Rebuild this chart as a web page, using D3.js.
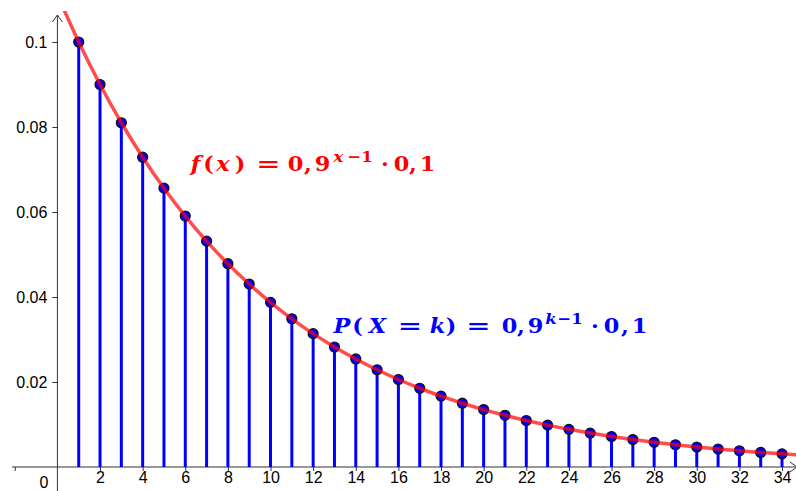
<!DOCTYPE html>
<html>
<head>
<meta charset="utf-8">
<script src="https://cdn.jsdelivr.net/npm/d3@7"></script>
<style>
  html, body { margin: 0; padding: 0; background: #fff; }
  svg { display: block; }
</style>
</head>
<body>
<svg id="chart" width="796" height="491"></svg>
<script>
// Geometric distribution P(X = k) = 0,9^(k-1) * 0,1
const kValues = [1,2,3,4,5,6,7,8,9,10,11,12,13,14,15,16,17,18,19,20,21,22,23,24,25,26,27,28,29,30,31,32,33,34];
const probs = [0.1, 0.09, 0.081, 0.0729, 0.06561, 0.05905, 0.05314, 0.04783, 0.04305, 0.03874,
               0.03487, 0.03138, 0.02824, 0.02542, 0.02288, 0.02059, 0.01853, 0.01668, 0.01501, 0.01351,
               0.01216, 0.01094, 0.00985, 0.00886, 0.00798, 0.00718, 0.00646, 0.00581, 0.00523, 0.00471,
               0.00424, 0.00382, 0.00343, 0.00309];
// continuous curve f(x) also runs a little past the first and last k
const curveStartX = [0];
const curveStartY = [0.11111];
const curveEndX = [35];
const curveEndY = [0.00278];

const xTickValues = [-2,2,4,6,8,10,12,14,16,18,20,22,24,26,28,30,32,34];
const xTickLabels = ["","2","4","6","8","10","12","14","16","18","20","22","24","26","28","30","32","34"];
const yTickValues = [0.02,0.04,0.06,0.08,0.1];
const yTickLabels = ["0.02","0.04","0.06","0.08","0.1"];

const W = 796, H = 491;
const svg = d3.select("#chart");

const x = d3.scaleLinear().domain([0, 32]).range([57.4, 739.4]);
const y = d3.scaleLinear().domain([0, 0.1]).range([467, 42]);

const axisColor = "#333";
const tickFont = "Liberation Sans, Arial, sans-serif";

// x axis line with arrow at the right
svg.append("line")
  .attr("x1", 12).attr("x2", W + 2)
  .attr("y1", y(0)).attr("y2", y(0))
  .attr("stroke", axisColor).attr("stroke-width", 1);
svg.append("path")
  .attr("d", `M${W - 6},${y(0) - 5} L${W + 1},${y(0)} L${W - 6},${y(0) + 5}`)
  .attr("fill", "none").attr("stroke", axisColor).attr("stroke-width", 1);

// y axis line with arrow at the top
svg.append("line")
  .attr("x1", x(0)).attr("x2", x(0))
  .attr("y1", 15).attr("y2", H)
  .attr("stroke", axisColor).attr("stroke-width", 1);
svg.append("path")
  .attr("d", `M${x(0) - 5},${22} L${x(0)},${15} L${x(0) + 5},${22}`)
  .attr("fill", "none").attr("stroke", axisColor).attr("stroke-width", 1);

// x axis ticks and labels
const xAxis = d3.axisBottom(x)
  .tickValues(xTickValues)
  .tickSize(4)
  .tickFormat((d, i) => xTickLabels[i]);
const gx = svg.append("g").attr("transform", `translate(0,${y(0)})`).call(xAxis);
gx.select(".domain").remove();
gx.selectAll(".tick line").attr("stroke", axisColor);
gx.selectAll(".tick text")
  .attr("fill", "#000")
  .attr("font-family", tickFont)
  .attr("font-size", 16)
  .attr("dy", 0).attr("y", 16);

// y axis ticks and labels
const yAxis = d3.axisLeft(y)
  .tickValues(yTickValues)
  .tickSize(5)
  .tickFormat((d, i) => yTickLabels[i]);
const gy = svg.append("g").attr("transform", `translate(${x(0)},0)`).call(yAxis);
gy.select(".domain").remove();
gy.selectAll(".tick line").attr("stroke", axisColor);
gy.selectAll(".tick text")
  .attr("fill", "#000")
  .attr("font-family", tickFont)
  .attr("font-size", 16)
  .attr("x", -10).attr("dy", "0.35em");

// origin label
svg.append("text")
  .attr("x", 44).attr("y", 488)
  .attr("text-anchor", "middle")
  .attr("font-family", tickFont)
  .attr("font-size", 16)
  .text("0");

// stems
svg.append("g").selectAll("line")
  .data(kValues)
  .join("line")
  .attr("x1", d => x(d)).attr("x2", d => x(d))
  .attr("y1", y(0)).attr("y2", (d, i) => y(probs[i]))
  .attr("stroke", "#0000ff").attr("stroke-width", 3);

// points
svg.append("g").selectAll("circle")
  .data(kValues)
  .join("circle")
  .attr("cx", d => x(d)).attr("cy", (d, i) => y(probs[i]))
  .attr("r", 5)
  .attr("fill", "#0000ff")
  .attr("stroke", "#111").attr("stroke-width", 1.2);

// curve f(x)
const curvePts = [];
curveStartX.forEach((v, i) => curvePts.push([v, curveStartY[i]]));
kValues.forEach((k, i) => curvePts.push([k, probs[i]]));
curveEndX.forEach((v, i) => curvePts.push([v, curveEndY[i]]));

svg.append("clipPath").attr("id", "view")
  .append("rect").attr("x", 0).attr("y", 11).attr("width", W).attr("height", H - 11);

svg.append("path")
  .datum(curvePts)
  .attr("clip-path", "url(#view)")
  .attr("fill", "none")
  .attr("stroke", "#ff0000")
  .attr("stroke-opacity", 0.7)
  .attr("stroke-width", 3.5)
  .attr("stroke-linecap", "round")
  .attr("d", d3.line().x(d => x(d[0])).y(d => y(d[1])).curve(d3.curveMonotoneX));

// formula labels, typeset glyph group by glyph group: [text, centre x, italic, superscript]
function formula(baseline, color, pieces) {
  const g = svg.append("g")
    .attr("fill", color)
    .attr("font-family", "DejaVu Serif, serif")
    .attr("font-weight", "bold");
  pieces.forEach(([t, cx, it, sup]) => {
    const by = sup ? baseline - 9 : baseline;
    const sx = sup ? 1.1 : (t === "=" ? 1.45 : 1.12);
    g.append("text")
      .attr("transform", `translate(${cx},${by}) scale(${sx},1)`)
      .attr("text-anchor", "middle")
      .attr("font-size", sup ? 15 : 20)
      .attr("font-style", it ? "italic" : "normal")
      .text(t);
  });
}

formula(171, "#ff0000", [
  ["f", 195.5, true], ["(", 208.5, false], ["x", 223, true], [")", 240, false],
  ["=", 268.5, false],
  ["0", 295.5, false], [",", 308, false], ["9", 322.5, false],
  ["x", 338.5, true, true], ["\u22121", 360, false, true],
  ["\u00b7", 385, false],
  ["0", 401.5, false], [",", 413, false], ["1", 427.5, false]
]);

formula(333, "#0000ff", [
  ["P", 342, true], ["(", 357.5, false], ["X", 377.5, true],
  ["=", 410, false], ["k", 437.5, true], [")", 451, false],
  ["=", 478.5, false],
  ["0", 509.5, false], [",", 521, false], ["9", 535.5, false],
  ["k", 551, true, true], ["\u22121", 570, false, true],
  ["\u00b7", 595, false],
  ["0", 611.5, false], [",", 625, false], ["1", 639.5, false]
]);
</script>
</body>
</html>
